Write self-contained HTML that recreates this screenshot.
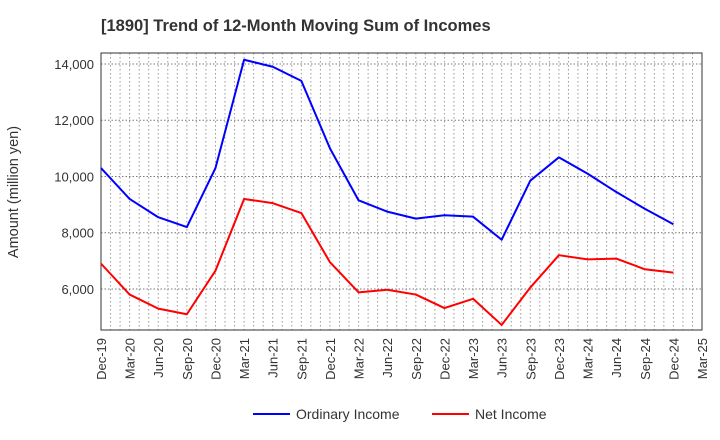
<!DOCTYPE html>
<html><head><meta charset="utf-8"><style>
body{margin:0;background:#fff;font-family:"Liberation Sans",sans-serif;}
svg{display:block}
</style></head><body>
<svg id="c" width="720" height="440" xmlns="http://www.w3.org/2000/svg">
<text x="101" y="31" font-size="16.5" font-weight="bold" fill="#333">[1890]  Trend of 12-Month Moving Sum of Incomes</text>
<g id="grid"></g><g id="axes"></g><g id="series"></g>
<text transform="translate(18,192) rotate(-90)" text-anchor="middle" font-size="14.5" fill="#333">Amount (million yen)</text>
<g>
<line x1="253" y1="414" x2="290" y2="414" stroke="#0000ff" stroke-width="2"/>
<text x="296" y="419" font-size="14" fill="#333">Ordinary Income</text>
<line x1="432" y1="414" x2="469" y2="414" stroke="#ff0000" stroke-width="2"/>
<text x="475" y="419" font-size="14" fill="#333">Net Income</text>
</g>
</svg>
<script>
const categories=["Dec-19","Mar-20","Jun-20","Sep-20","Dec-20","Mar-21","Jun-21","Sep-21","Dec-21","Mar-22","Jun-22","Sep-22","Dec-22","Mar-23","Jun-23","Sep-23","Dec-23","Mar-24","Jun-24","Sep-24","Dec-24","Mar-25"];
const ordinaryIncome=[10300,9200,8550,8200,10300,14150,13900,13400,11000,9150,8750,8500,8620,8570,7750,9850,10680,10100,9450,8850,8300];
const netIncome=[6900,5800,5300,5100,6650,9200,9050,8700,6950,5880,5970,5800,5320,5650,4720,6050,7200,7050,7080,6700,6580];
const yTicks=[6000,8000,10000,12000,14000];
const yTickLabels=["6,000","8,000","10,000","12,000","14,000"];
const L=101,R=702,T=53,B=330,yMin=4540,yMax=14390;
const NS="http://www.w3.org/2000/svg";
const xs=i=>L+i*(R-L)/(categories.length-1);
const ys=v=>B-(v-yMin)/(yMax-yMin)*(B-T);
function mk(p,tag,a){const e=document.createElementNS(NS,tag);for(const k in a)e.setAttribute(k,a[k]);p.appendChild(e);return e;}
const grid=document.getElementById('grid'),axes=document.getElementById('axes'),ser=document.getElementById('series');
const nMonths=(categories.length-1)*3;
for(let m=1;m<nMonths;m++){const x=L+m*(R-L)/nMonths;
const g=mk(grid,'line',{x1:x,x2:x,y1:T,y2:B,stroke:'#999','stroke-dasharray':'1.5,2.5','stroke-width':1});

}
yTicks.forEach((v,i)=>{const y=ys(v);
const g=mk(grid,'line',{x1:L,x2:R,y1:y,y2:y,stroke:'#777','stroke-dasharray':'1.5,2','stroke-width':1});


const t=mk(axes,'text',{x:L-7,y:y+5,'text-anchor':'end','font-size':13,fill:'#333'});t.textContent=yTickLabels[i];

});
const fr=mk(axes,'rect',{x:L,y:T,width:R-L,height:B-T,fill:'none',stroke:'#333','stroke-width':1});


categories.forEach((c,i)=>{const x=xs(i);
const t=mk(axes,'text',{transform:`translate(${x+5},${B+8}) rotate(-90)`,'text-anchor':'end','font-size':13,fill:'#333'});t.textContent=c;

});
function line(d,col,name){const p=mk(ser,'polyline',{points:d.map((v,i)=>xs(i)+','+ys(v)).join(' '),fill:'none',stroke:col,'stroke-width':2,'stroke-linejoin':'round'});

}
line(ordinaryIncome,'#0000ff','ordinary-income-line');
line(netIncome,'#ff0000','net-income-line');
</script>
</body></html>
